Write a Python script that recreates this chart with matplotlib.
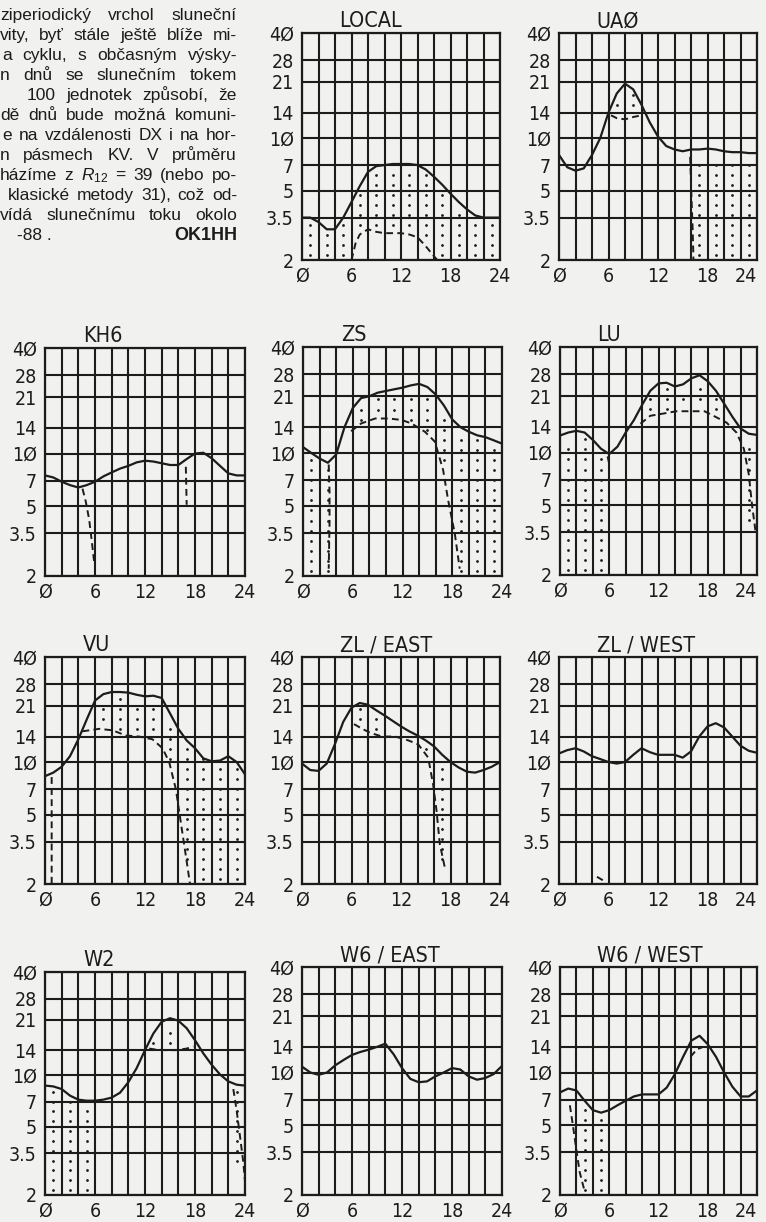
import numpy as np
import matplotlib
matplotlib.use("Agg")
import matplotlib.pyplot as plt
from matplotlib.ticker import NullLocator
from matplotlib import font_manager

nan = np.nan

# ---------------- data ----------------
HOURS = list(range(25))
COL_CENTERS = [1, 3, 5, 7, 9, 11, 13, 15, 17, 19, 21, 23]
Y_LEVELS = [2, 3.5, 5, 7, 10, 14, 21, 28, 40]
Y_LABELS = ["2", "3.5", "5", "7", "1Ø", "14", "21", "28", "4Ø"]
X_GRID = list(range(0, 25, 2))
X_LABELS = ["Ø", "", "", "6", "", "", "12", "", "", "18", "", "", "24"]

TITLES = ["LOCAL", "UAØ", "KH6", "ZS", "LU", "VU", "ZL / EAST", "ZL / WEST",
          "W2", "W6 / EAST", "W6 / WEST"]

# solid curves (MUF), hourly 0..24
local_muf = [3.5, 3.5, 3.3, 3.0, 3.0, 3.5, 4.3, 5.3, 6.4, 6.9, 7.0, 7.1, 7.1, 7.1, 7.0, 6.6, 6.0, 5.4, 4.8, 4.3, 3.9, 3.6, 3.5, 3.5, 3.5]
ua0_muf = [8.0, 6.8, 6.5, 6.7, 8.0, 10.0, 14.0, 18.0, 20.5, 19.0, 15.5, 12.3, 10.2, 9.0, 8.6, 8.4, 8.6, 8.6, 8.7, 8.6, 8.4, 8.3, 8.3, 8.2, 8.2]
kh6_muf = [7.5, 7.3, 6.9, 6.6, 6.4, 6.6, 6.9, 7.4, 7.8, 8.2, 8.5, 8.9, 9.1, 9.0, 8.8, 8.6, 8.6, 9.3, 10.0, 10.1, 9.4, 8.5, 7.7, 7.5, 7.5]
zs_muf = [10.8, 10.0, 9.3, 8.8, 9.8, 14.0, 18.0, 20.5, 21.0, 22.0, 22.5, 23.0, 23.5, 24.2, 24.7, 23.7, 21.5, 18.6, 15.5, 14.0, 13.2, 12.6, 12.3, 11.8, 11.3]
lu_muf = [12.5, 13.0, 13.3, 13.0, 11.8, 10.5, 9.8, 10.8, 13.0, 15.3, 18.7, 22.5, 24.8, 25.0, 23.8, 24.5, 26.5, 27.6, 25.5, 22.5, 19.0, 16.0, 13.7, 12.8, 12.6]
vu_muf = [8.3, 8.7, 9.4, 10.8, 13.5, 17.5, 22.5, 24.5, 25.2, 25.2, 25.0, 24.3, 23.8, 24.0, 23.3, 19.0, 15.5, 13.3, 12.0, 10.5, 10.1, 10.2, 10.8, 10.0, 8.5]
zle_muf = [9.8, 9.0, 8.9, 9.8, 12.7, 17.0, 20.5, 21.8, 21.3, 19.8, 18.5, 17.2, 16.0, 15.0, 14.2, 13.3, 12.3, 11.0, 10.0, 9.3, 8.8, 8.7, 9.0, 9.4, 10.0]
zlw_muf = [11.2, 11.7, 12.0, 11.5, 10.8, 10.4, 10.0, 9.8, 10.0, 11.0, 12.0, 11.4, 11.0, 11.0, 11.0, 10.6, 11.5, 14.0, 16.0, 16.7, 15.8, 14.0, 12.4, 11.6, 11.3]
w2_muf = [8.7, 8.6, 8.3, 7.6, 7.2, 7.1, 7.1, 7.2, 7.4, 7.9, 9.1, 11.0, 14.0, 17.5, 20.5, 21.5, 20.8, 18.8, 16.0, 13.4, 11.5, 10.1, 9.2, 8.8, 8.7]
w6e_muf = [10.8, 10.0, 9.7, 10.0, 11.0, 11.8, 12.6, 13.1, 13.5, 14.0, 14.6, 12.7, 10.6, 9.2, 8.8, 8.9, 9.5, 10.0, 10.6, 10.4, 9.5, 9.1, 9.3, 9.8, 10.9]
w6w_muf = [7.7, 8.1, 7.9, 6.9, 6.1, 5.9, 6.1, 6.5, 6.9, 7.3, 7.5, 7.5, 7.5, 8.2, 9.8, 12.3, 15.2, 16.2, 14.5, 12.3, 10.0, 8.3, 7.3, 7.3, 7.9]

# dashed curves (LUF); nan separates pieces
local_luf_x = [6.0, 6.5, 7.0, 8.0, 9.0, 10.0, 12.0, 13.0, 14.0, 15.0, 16.0, 16.4]
local_luf_y = [2.0, 2.5, 2.8, 3.0, 2.9, 2.85, 2.85, 2.8, 2.7, 2.4, 2.1, 2.0]
ua0_luf_x = [6.3, 7.0, 8.0, 9.0, 10.0, nan, 15.9, 16.0, 16.1, 16.2, 16.3]
ua0_luf_y = [13.5, 13.0, 12.8, 13.2, 13.5, nan, 7.8, 5.5, 4.0, 3.0, 2.0]
kh6_luf_x = [4.5, 4.9, 5.3, 5.6, 5.9, nan, 16.9, 17.0]
kh6_luf_y = [6.3, 5.3, 4.2, 3.2, 2.4, nan, 8.4, 5.1]
zs_luf_x = [3.1, 3.2, 3.2, 3.1, nan, 5.8, 7.0, 8.7, 10.3, 11.9, 13.1, 14.7, 15.9, 16.9, 17.5, 18.3, 18.9]
zs_luf_y = [8.6, 6.0, 4.0, 2.2, nan, 13.3, 14.7, 15.7, 15.7, 15.4, 14.7, 13.2, 11.6, 8.0, 5.4, 3.5, 2.2]
lu_luf_x = [5.8, 6.0, nan, 9.8, 11.0, 12.0, 14.2, 16.0, 17.6, 18.7, 20.3, 21.5, 22.4, 23.0, 23.4, 23.8]
lu_luf_y = [9.5, 8.6, nan, 14.6, 16.2, 16.5, 17.2, 17.2, 17.2, 16.2, 14.8, 13.0, 10.5, 7.5, 5.0, 3.6]
vu_luf_x = [0.8, 0.8, 0.8, nan, 4.5, 6.5, 8.1, 9.7, 11.3, 12.9, 14.1, 14.9, 15.7, 16.3, 17.0, 17.4]
vu_luf_y = [8.2, 4.0, 2.0, nan, 15.0, 15.5, 15.2, 14.2, 14.0, 13.5, 12.0, 10.0, 7.0, 4.5, 2.7, 2.0]
zle_luf_x = [6.3, 7.3, 8.3, 9.7, 11.3, 12.9, 14.1, 15.3, 15.9, 16.3, 16.7, 17.3]
zle_luf_y = [16.5, 15.5, 14.7, 14.0, 14.0, 13.3, 12.6, 10.6, 7.4, 5.3, 3.4, 2.5]
zlw_luf_x = [4.6, 5.7]
zlw_luf_y = [2.2, 2.05]
w2_luf_x = [12.5, 13.3, 14.5, 15.7, 17.0, 17.8, nan, 22.6, 23.0, 23.4, 23.8, 24.0]
w2_luf_y = [14.3, 14.1, 14.0, 14.0, 14.3, 14.7, nan, 8.3, 6.2, 4.4, 3.1, 2.4]
w6e_luf_x = []
w6e_luf_y = []
w6w_luf_x = [1.2, 1.6, 2.0, 2.4, 3.0, nan, 15.9, 16.7, 17.3]
w6w_luf_y = [6.5, 4.9, 3.6, 2.7, 2.1, nan, 12.3, 13.6, 13.9]

# stippled band per 2-hour column (lower / upper bound, nan = none)
local_st_lo = [2, 2, 2, 2.8, 3.0, 2.9, 2.8, 2.5, 2, 2, 2, 2]
local_st_hi = [3.4, 3.0, 3.3, 5.2, 6.8, 7.0, 7.0, 6.4, 5.3, 4.2, 3.6, 3.5]
ua0_st_lo = [nan, nan, nan, 13.5, 13.5, nan, nan, nan, 2, 2, 2, 2]
ua0_st_hi = [nan, nan, nan, 17.0, 18.5, nan, nan, nan, 7.6, 7.8, 7.8, 7.8]
kh6_st_lo = [nan] * 12
kh6_st_hi = [nan] * 12
zs_st_lo = [2, 2, nan, 14.5, 15.7, 15.6, 15.0, 12.4, 7.8, 2, 2, 2]
zs_st_hi = [10.0, 8.6, nan, 19.5, 21.5, 22.5, 23.5, 23.5, 18.0, 13.5, 12.4, 11.5]
lu_st_lo = [2, 2, 2, nan, nan, 16.5, 17.0, 17.2, 17.2, 16.2, nan, 3.6]
lu_st_hi = [11.0, 12.5, 9.5, nan, nan, 22.0, 24.0, 23.5, 26.0, 21.5, nan, 12.0]
vu_st_lo = [nan, nan, nan, 15.5, 15.0, 14.0, 13.5, 9.0, 2.5, 2, 2, 2]
vu_st_hi = [nan, nan, nan, 23.5, 24.5, 23.5, 23.0, 18.0, 13.0, 11.5, 10.0, 9.5]
zle_st_lo = [nan, nan, nan, 15.5, 15.0, nan, nan, 10.5, 2.5, nan, nan, nan]
zle_st_hi = [nan, nan, nan, 21.0, 19.5, nan, nan, 13.0, 10.5, nan, nan, nan]
zlw_st_lo = [nan] * 12
zlw_st_hi = [nan] * 12
w2_st_lo = [2, 2, 2, nan, nan, nan, 14.3, 14.2, nan, nan, nan, 3.0]
w2_st_hi = [8.3, 7.4, 7.0, nan, nan, nan, 17.0, 20.5, nan, nan, nan, 8.5]
w6e_st_lo = [nan] * 12
w6e_st_hi = [nan] * 12
w6w_st_lo = [nan, 2, 2, nan, nan, nan, nan, nan, nan, nan, nan, nan]
w6w_st_hi = [nan, 6.5, 5.8, nan, nan, nan, nan, nan, nan, nan, nan, nan]

TEXT_LINES = [
    "ziperiodický vrchol sluneční",
    "vity, byť stále ještě blíže mi-",
    "a cyklu, s občasným výsky-",
    "n dnů se slunečním tokem",
    "100 jednotek způsobí, že",
    "dě dnů bude možná komuni-",
    "e na vzdálenosti DX i na hor-",
    "n pásmech KV. V průměru",
    "házíme z $R_{12}$ = 39 (nebo po-",
    "klasické metody 31), což od-",
    "vídá slunečnímu toku okolo",
]
LAST_LINE = "-88 ."
SIGNATURE = "OK1HH"

# ---------------- style / layout ----------------
PAPER = "#f1f2ef"
INK = "#1c1c1c"

_names = {f.name for f in font_manager.fontManager.ttflist}
_cond = any(f.name == "DejaVu Sans" and f.stretch in ("condensed", "semi-condensed", 500 - 100)
            for f in font_manager.fontManager.ttflist)
if "Liberation Sans Narrow" in _names:
    TICK_FONT = dict(family=["Liberation Sans Narrow", "DejaVu Sans"])
elif _cond:
    TICK_FONT = dict(family=["DejaVu Sans"], stretch="condensed")
else:
    TICK_FONT = dict(family=["Roboto", "DejaVu Sans"])
TEXT_FONT = ["Liberation Sans", "DejaVu Sans"]
plt.rcParams["mathtext.fontset"] = "custom"
plt.rcParams["mathtext.it"] = "Liberation Sans:italic"
plt.rcParams["mathtext.rm"] = "Liberation Sans"

W, H = 766, 1222
fig = plt.figure(figsize=(W / 100, H / 100), dpi=100)
fig.patch.set_facecolor(PAPER)


def fx(px):
    return px / W


def fy(py):
    return 1 - py / H


# axes boxes in pixels: left, top, right, bottom
RECTS = [
    (302, 33, 500, 260), (559, 33, 757, 260),
    (45, 348, 245, 576), (303, 347, 502, 576), (560, 347, 757, 575),
    (45, 657, 245, 884), (302, 657, 500, 884), (559, 657, 757, 884),
    (45, 972, 245, 1195), (302, 967, 502, 1195), (560, 967, 757, 1195),
]

MUFS = [local_muf, ua0_muf, kh6_muf, zs_muf, lu_muf, vu_muf, zle_muf, zlw_muf, w2_muf, w6e_muf, w6w_muf]
LUFX = [local_luf_x, ua0_luf_x, kh6_luf_x, zs_luf_x, lu_luf_x, vu_luf_x, zle_luf_x, zlw_luf_x, w2_luf_x, w6e_luf_x, w6w_luf_x]
LUFY = [local_luf_y, ua0_luf_y, kh6_luf_y, zs_luf_y, lu_luf_y, vu_luf_y, zle_luf_y, zlw_luf_y, w2_luf_y, w6e_luf_y, w6w_luf_y]
STLO = [local_st_lo, ua0_st_lo, kh6_st_lo, zs_st_lo, lu_st_lo, vu_st_lo, zle_st_lo, zlw_st_lo, w2_st_lo, w6e_st_lo, w6w_st_lo]
STHI = [local_st_hi, ua0_st_hi, kh6_st_hi, zs_st_hi, lu_st_hi, vu_st_hi, zle_st_hi, zlw_st_hi, w2_st_hi, w6e_st_hi, w6w_st_hi]

# vertical stipple rhythm (log-space step, ~10 px)
DOT_STEP = np.log10(20) * 10 / 227
DOT_LEVELS = 2 * 10 ** (DOT_STEP * (np.arange(40) + 0.5))

for title, muf, lx, ly, lo, hi, (l, t, r, b) in zip(TITLES, MUFS, LUFX, LUFY, STLO, STHI, RECTS):
    ax = fig.add_axes([fx(l), fy(b), (r - l) / W, (b - t) / H])
    ax.set_facecolor(PAPER)
    ax.set_yscale("log")
    ax.set_xlim(0, 24)
    ax.set_ylim(2, 40)
    ax.set_yticks(Y_LEVELS)
    ax.set_yticklabels(Y_LABELS, **TICK_FONT)
    ax.yaxis.set_minor_locator(NullLocator())
    ax.set_xticks(X_GRID)
    ax.set_xticklabels(X_LABELS, **TICK_FONT)
    ax.tick_params(length=0, labelsize=14, colors=INK)
    ax.tick_params(axis="x", pad=5)
    ax.tick_params(axis="y", pad=6)
    if r > 750:
        ax.get_xticklabels()[-1].set_horizontalalignment("right")
        ax.get_xticklabels()[-1].set_x(24.1)
    ax.grid(True, color=INK, lw=1.5)
    for sp in ax.spines.values():
        sp.set_color(INK)
        sp.set_linewidth(1.6)

    # stipple
    for c, a, z in zip(COL_CENTERS, lo, hi):
        if np.isnan(a) or np.isnan(z):
            continue
        ys = DOT_LEVELS[(DOT_LEVELS > a * 1.03) & (DOT_LEVELS < z * 0.97)]
        ax.plot([c] * len(ys), ys, ls="none", marker="o", ms=2.0, color=INK, mew=0)

    ax.plot(HOURS, muf, color=INK, lw=1.6, solid_capstyle="round", clip_on=False)
    if len(lx):
        ax.plot(lx, ly, color=INK, lw=1.4, ls=(0, (3.5, 2.2)))

    ax.text(0.19, 1.008, title, transform=ax.transAxes, ha="left", va="bottom",
            fontsize=15.5, color=INK, **TICK_FONT)

# text block (justified)
renderer = fig.canvas.get_renderer()
RIGHT = 237
LEFTS = [0, 0, 2, 0, 27, 0, 2, 0, 0, 8, 0]
MIN_GAP = 4
for i, (line, left) in enumerate(zip(TEXT_LINES, LEFTS)):
    base = 20 + 20 * i
    words = line.split(" ")
    merged = []
    for w in words:
        if merged and merged[-1].startswith("$") and not merged[-1].endswith("$"):
            merged[-1] += " " + w
        else:
            merged.append(w)
    texts = [fig.text(0, fy(base), w, fontsize=12.5, family=TEXT_FONT, color=INK, va="baseline")
             for w in merged]
    widths = [tx.get_window_extent(renderer).width for tx in texts]
    gap = (RIGHT - left - sum(widths)) / max(len(texts) - 1, 1)
    if gap < MIN_GAP:
        gap = MIN_GAP
        left = max(RIGHT - sum(widths) - gap * (len(texts) - 1), 0)
    x = left
    for tx, wd in zip(texts, widths):
        tx.set_x(fx(x))
        x += wd + gap

base = 20 + 20 * len(TEXT_LINES)
fig.text(fx(17), fy(base), LAST_LINE, fontsize=12.5, family=TEXT_FONT, color=INK, va="baseline")
fig.text(fx(RIGHT), fy(base), SIGNATURE, fontsize=13, family=TEXT_FONT, weight="bold",
         color=INK, va="baseline", ha="right")

fig.savefig("out.png", dpi=100, facecolor=PAPER)
